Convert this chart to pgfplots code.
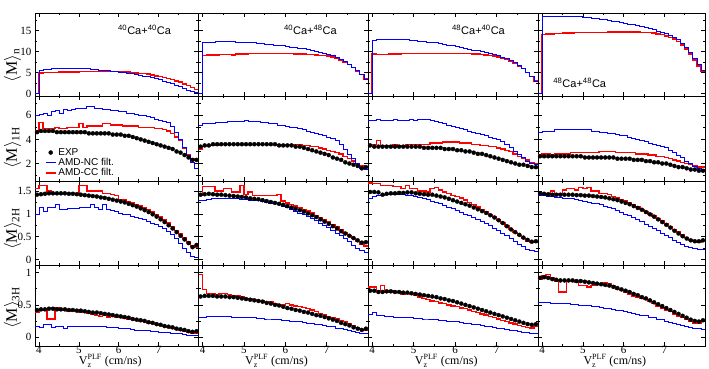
\documentclass[border=0pt]{standalone}
\usepackage{amsmath}
\usepackage{fontspec}
\setmainfont{Liberation Serif}
\newfontfamily\hv{Liberation Sans}
\usepackage{pgfplots}
\usepackage{pgfplotstable}
\pgfplotsset{compat=1.18}

% ---------- row 1: <M>_n (no EXP) ----------
\pgfplotstableread{
x nc cc
3.9 0 0
4.0 5.6 4.9
4.1 5.7 5.0
4.2 5.8 5.0
4.3 5.9 5.0
4.4 5.9 5.0
4.5 6.0 5.1
4.6 6.0 5.1
4.7 6.0 5.1
4.8 6.1 5.1
4.9 6.1 5.1
5.0 6.0 5.2
5.1 6.0 5.2
5.2 5.9 5.2
5.3 5.8 5.2
5.4 5.7 5.2
5.5 5.6 5.2
5.6 5.5 5.2
5.7 5.4 5.2
5.8 5.3 5.2
5.9 5.2 5.2
6.0 5.1 5.2
6.1 5.0 5.1
6.2 4.8 5.1
6.3 4.7 5.0
6.4 4.5 4.9
6.5 4.4 4.8
6.6 4.2 4.7
6.7 4.0 4.6
6.8 3.8 4.4
6.9 3.5 4.2
7.0 3.3 4.0
7.1 3.0 3.8
7.2 2.7 3.6
7.3 2.4 3.3
7.4 2.0 3.0
7.5 1.6 2.7
7.6 1.2 2.3
7.7 0.8 1.9
7.8 0.4 1.4
7.9 0.2 0.9
8.0 0.2 0.9
}\nA
\pgfplotstableread{
x nc cc
3.9 0 0
4.0 12.2 9.1
4.1 12.3 9.2
4.2 12.3 9.2
4.3 12.4 9.2
4.4 12.4 9.3
4.5 12.4 9.3
4.6 12.4 9.3
4.7 12.4 9.2
4.8 12.3 9.4
4.9 12.3 9.4
5.0 12.2 9.4
5.1 12.2 9.5
5.2 12.1 9.5
5.3 12.0 9.5
5.4 11.9 9.5
5.5 11.8 9.5
5.6 11.7 9.5
5.7 11.6 9.5
5.8 11.5 9.5
5.9 11.4 9.5
6.0 11.2 9.5
6.1 11.1 9.5
6.2 11.0 9.4
6.3 10.8 9.4
6.4 10.7 9.4
6.5 10.5 9.3
6.6 10.3 9.3
6.7 10.1 9.2
6.8 9.9 9.1
6.9 9.6 9.0
7.0 9.3 8.9
7.1 9.0 8.7
7.2 8.6 8.4
7.3 8.2 8.0
7.4 7.7 7.5
7.5 7.0 6.9
7.6 6.3 6.2
7.7 5.5 5.4
7.8 4.5 4.5
7.9 3.4 3.5
8.0 3.4 3.5
}\nB
\pgfplotstableread{
x nc cc
3.9 0 0
4.0 12.7 9.4
4.1 12.8 9.3
4.2 12.8 9.3
4.3 12.9 9.3
4.4 12.9 9.4
4.5 12.9 9.4
4.6 12.9 9.4
4.7 12.8 9.5
4.8 12.8 9.5
4.9 12.7 9.5
5.0 12.6 9.6
5.1 12.5 9.6
5.2 12.4 9.6
5.3 12.3 9.6
5.4 12.2 9.6
5.5 12.1 9.6
5.6 11.9 9.6
5.7 11.8 9.6
5.8 11.6 9.6
5.9 11.4 9.6
6.0 11.2 9.6
6.1 11.0 9.6
6.2 10.8 9.5
6.3 10.6 9.5
6.4 10.4 9.4
6.5 10.2 9.4
6.6 10.0 9.3
6.7 9.8 9.2
6.8 9.6 9.1
6.9 9.3 8.9
7.0 9.0 8.7
7.1 8.7 8.4
7.2 8.3 8.1
7.3 7.9 7.7
7.4 7.4 7.2
7.5 6.8 6.6
7.6 6.0 5.9
7.7 5.0 5.0
7.8 4.0 4.0
7.9 3.0 3.0
8.0 3.0 3.0
}\nC
\pgfplotstableread{
x nc cc
3.9 0 0
4.0 18.4 14.1
4.1 18.5 14.2
4.2 18.5 14.2
4.3 18.5 14.3
4.4 18.5 14.3
4.5 18.5 14.4
4.6 18.5 14.4
4.7 18.4 14.4
4.8 18.4 14.5
4.9 18.3 14.5
5.0 18.2 14.5
5.1 18.1 14.6
5.2 18.0 14.6
5.3 17.9 14.6
5.4 17.8 14.6
5.5 17.6 14.6
5.6 17.5 14.7
5.7 17.3 14.7
5.8 17.2 14.7
5.9 17.0 14.7
6.0 16.8 14.7
6.1 16.6 14.7
6.2 16.4 14.7
6.3 16.2 14.7
6.4 16.0 14.6
6.5 15.7 14.6
6.6 15.5 14.5
6.7 15.2 14.4
6.8 14.9 14.2
6.9 14.6 14.0
7.0 14.3 13.7
7.1 13.9 13.4
7.2 13.4 13.0
7.3 12.8 12.4
7.4 12.0 11.6
7.5 11.0 10.6
7.6 9.8 9.4
7.7 8.4 8.0
7.8 6.9 6.6
7.9 5.5 5.4
8.0 5.5 5.4
}\nD

% ---------- row 2: <M>_1H ----------
\pgfplotstableread{
x e nc cc
3.9 4.6 6.0 4.7
4.0 4.7 6.1 5.4
4.1 4.7 6.2 4.9
4.2 4.7 6.0 4.9
4.3 4.7 6.3 4.9
4.4 4.6 6.4 5.0
4.5 4.6 6.2 4.9
4.6 4.6 6.5 4.9
4.7 4.6 6.4 5.0
4.8 4.6 6.5 5.0
4.9 4.6 6.6 5.0
5.0 4.6 6.6 5.3
5.1 4.6 6.6 5.0
5.2 4.5 6.7 5.1
5.3 4.5 6.7 5.1
5.4 4.5 6.6 5.1
5.5 4.5 6.6 5.1
5.6 4.5 6.5 5.3
5.7 4.5 6.5 5.3
5.8 4.4 6.4 5.2
5.9 4.4 6.4 5.2
6.0 4.4 6.3 5.2
6.1 4.3 6.3 5.1
6.2 4.3 6.2 5.1
6.3 4.2 6.2 5.1
6.4 4.1 6.1 5.1
6.5 4.0 6.0 5.0
6.6 3.9 6.0 5.0
6.7 3.8 5.9 5.0
6.8 3.7 5.8 5.0
6.9 3.6 5.7 4.9
7.0 3.5 5.6 4.9
7.1 3.4 5.5 4.8
7.2 3.3 5.4 4.7
7.3 3.2 5.1 4.5
7.4 3.0 4.6 4.2
7.5 2.9 4.0 3.9
7.6 2.7 3.3 3.3
7.7 2.5 2.7 2.7
7.8 2.3 2.1 2.4
7.9 2.3 1.6 2.3
8.0 nan 1.6 2.3
}\pA
\pgfplotstableread{
x e nc cc
3.9 3.4 5.2 3.2
4.0 3.5 5.3 3.4
4.1 3.5 5.3 3.5
4.2 3.6 5.3 3.5
4.3 3.6 5.4 3.5
4.4 3.6 5.4 3.6
4.5 3.6 5.4 3.6
4.6 3.6 5.5 3.6
4.7 3.6 5.5 3.6
4.8 3.6 5.5 3.6
4.9 3.6 5.5 3.6
5.0 3.6 5.6 3.6
5.1 3.6 5.5 3.6
5.2 3.6 5.5 3.6
5.3 3.6 5.5 3.6
5.4 3.6 5.4 3.6
5.5 3.6 5.4 3.6
5.6 3.6 5.3 3.6
5.7 3.6 5.3 3.6
5.8 3.5 5.2 3.6
5.9 3.5 5.2 3.6
6.0 3.5 5.1 3.6
6.1 3.5 5.0 3.6
6.2 3.4 5.0 3.6
6.3 3.4 4.9 3.6
6.4 3.3 4.8 3.5
6.5 3.2 4.7 3.5
6.6 3.1 4.6 3.4
6.7 3.0 4.5 3.4
6.8 2.9 4.4 3.3
6.9 2.8 4.3 3.2
7.0 2.7 4.2 3.1
7.1 2.5 4.1 3.0
7.2 2.4 3.9 2.9
7.3 2.3 3.6 2.8
7.4 2.1 3.2 2.6
7.5 2.0 2.8 2.4
7.6 1.9 2.4 2.2
7.7 1.8 2.0 2.0
7.8 1.6 1.6 1.8
7.9 1.7 1.5 1.7
8.0 nan 1.5 1.7
}\pB
\pgfplotstableread{
x e nc cc
3.9 3.5 5.6 3.6
4.0 3.4 5.6 3.6
4.1 3.4 5.7 3.9
4.2 3.4 5.6 3.5
4.3 3.4 5.6 3.5
4.4 3.4 5.6 3.5
4.5 3.4 5.7 3.6
4.6 3.4 5.6 3.5
4.7 3.4 5.6 3.5
4.8 3.4 5.6 3.6
4.9 3.4 5.7 3.6
5.0 3.4 5.6 3.6
5.1 3.4 5.7 3.6
5.2 3.3 5.7 3.6
5.3 3.3 5.7 3.6
5.4 3.3 5.6 3.7
5.5 3.3 5.5 3.7
5.6 3.3 5.4 3.7
5.7 3.2 5.3 3.8
5.8 3.2 5.2 3.8
5.9 3.2 5.1 3.8
6.0 3.1 5.0 3.8
6.1 3.1 4.9 3.7
6.2 3.0 4.8 3.7
6.3 3.0 4.7 3.7
6.4 2.9 4.6 3.6
6.5 2.8 4.5 3.6
6.6 2.8 4.4 3.5
6.7 2.7 4.3 3.5
6.8 2.6 4.2 3.4
6.9 2.5 4.1 3.4
7.0 2.4 4.0 3.3
7.1 2.3 3.8 3.2
7.2 2.2 3.6 3.1
7.3 2.1 3.3 3.0
7.4 2.0 3.0 2.8
7.5 1.9 2.8 2.6
7.6 1.9 2.5 2.4
7.7 1.8 2.2 2.3
7.8 1.7 2.0 2.1
7.9 1.7 1.9 2.0
8.0 nan 1.9 2.0
}\pC
\pgfplotstableread{
x e nc cc
3.9 2.6 4.6 2.7
4.0 2.6 4.7 2.8
4.1 2.6 4.7 2.8
4.2 2.6 4.7 2.7
4.3 2.6 4.8 2.8
4.4 2.6 4.8 2.8
4.5 2.6 4.8 2.8
4.6 2.6 4.8 2.8
4.7 2.6 4.8 2.9
4.8 2.6 4.8 2.9
4.9 2.6 4.8 2.9
5.0 2.5 4.8 2.9
5.1 2.5 4.8 2.9
5.2 2.5 4.7 2.9
5.3 2.5 4.7 2.9
5.4 2.5 4.6 3.0
5.5 2.5 4.6 3.0
5.6 2.5 4.5 3.0
5.7 2.5 4.5 3.0
5.8 2.4 4.4 2.9
5.9 2.4 4.3 2.9
6.0 2.4 4.3 2.9
6.1 2.4 4.2 2.9
6.2 2.3 4.1 2.9
6.3 2.3 4.0 2.8
6.4 2.3 3.9 2.8
6.5 2.2 3.8 2.8
6.6 2.2 3.7 2.7
6.7 2.1 3.6 2.7
6.8 2.1 3.5 2.6
6.9 2.0 3.4 2.6
7.0 2.0 3.3 2.5
7.1 1.9 3.1 2.4
7.2 1.8 2.9 2.3
7.3 1.7 2.7 2.2
7.4 1.7 2.5 2.1
7.5 1.6 2.2 2.0
7.6 1.5 2.0 1.9
7.7 1.5 1.8 1.8
7.8 1.4 1.6 1.7
7.9 1.4 1.5 1.7
8.0 nan 1.5 1.7
}\pD

% ---------- row 3: <M>_2H ----------
\pgfplotstableread{
x e nc cc
3.9 1.42 1.0 1.55
4.0 1.43 1.15 1.62
4.1 1.44 1.05 1.62
4.2 1.45 1.15 1.5
4.3 1.45 1.15 1.45
4.4 1.45 1.2 1.45
4.5 1.45 1.1 1.45
4.6 1.45 1.1 1.45
4.7 1.44 1.12 1.45
4.8 1.44 1.12 1.45
4.9 1.43 1.13 1.45
5.0 1.42 1.14 1.62
5.1 1.41 1.15 1.62
5.2 1.40 1.15 1.5
5.3 1.39 1.2 1.5
5.4 1.38 1.15 1.5
5.5 1.36 1.1 1.5
5.6 1.35 1.2 1.45
5.7 1.33 1.1 1.45
5.8 1.31 1.08 1.42
5.9 1.29 1.05 1.4
6.0 1.27 1.02 1.32
6.1 1.25 1.0 1.3
6.2 1.22 0.98 1.27
6.3 1.19 0.95 1.24
6.4 1.16 0.92 1.21
6.5 1.12 0.9 1.17
6.6 1.08 0.87 1.13
6.7 1.04 0.84 1.09
6.8 0.99 0.8 1.04
6.9 0.94 0.77 0.99
7.0 0.88 0.73 0.93
7.1 0.82 0.68 0.87
7.2 0.75 0.62 0.8
7.3 0.68 0.55 0.72
7.4 0.60 0.46 0.64
7.5 0.52 0.36 0.56
7.6 0.44 0.25 0.47
7.7 0.36 0.15 0.38
7.8 0.27 0.08 0.3
7.9 0.32 0.05 0.27
8.0 nan 0.05 0.27
}\dA
\pgfplotstableread{
x e nc cc
3.9 1.42 1.3 1.4
4.0 1.43 1.3 1.6
4.1 1.44 1.32 1.6
4.2 1.43 1.33 1.6
4.3 1.42 1.33 1.5
4.4 1.42 1.35 1.5
4.5 1.41 1.35 1.55
4.6 1.40 1.33 1.55
4.7 1.39 1.35 1.48
4.8 1.38 1.33 1.48
4.9 1.37 1.32 1.62
5.0 1.36 1.32 1.42
5.1 1.34 1.3 1.48
5.2 1.33 1.3 1.4
5.3 1.32 1.3 1.4
5.4 1.30 1.28 1.4
5.5 1.28 1.25 1.4
5.6 1.26 1.24 1.4
5.7 1.24 1.22 1.4
5.8 1.22 1.2 1.42
5.9 1.20 1.17 1.28
6.0 1.17 1.14 1.24
6.1 1.14 1.1 1.2
6.2 1.11 1.06 1.17
6.3 1.08 1.02 1.14
6.4 1.05 0.98 1.1
6.5 1.01 0.94 1.06
6.6 0.97 0.9 1.02
6.7 0.93 0.85 0.97
6.8 0.88 0.8 0.92
6.9 0.83 0.75 0.87
7.0 0.78 0.7 0.82
7.1 0.73 0.64 0.77
7.2 0.68 0.58 0.71
7.3 0.62 0.52 0.65
7.4 0.57 0.46 0.58
7.5 0.52 0.39 0.52
7.6 0.47 0.32 0.46
7.7 0.42 0.25 0.39
7.8 0.37 0.19 0.33
7.9 0.38 0.15 0.3
8.0 nan 0.15 0.3
}\dB
\pgfplotstableread{
x e nc cc
3.9 1.48 1.35 1.68
4.0 1.48 1.38 1.66
4.1 1.47 1.4 1.66
4.2 1.42 1.4 1.62
4.3 1.44 1.42 1.62
4.4 1.45 1.42 1.62
4.5 1.45 1.42 1.6
4.6 1.46 1.42 1.6
4.7 1.46 1.42 1.55
4.8 1.47 1.4 1.62
4.9 1.47 1.4 1.55
5.0 1.45 1.38 1.55
5.1 1.44 1.36 1.5
5.2 1.43 1.34 1.5
5.3 1.42 1.31 1.48
5.4 1.42 1.28 1.55
5.5 1.40 1.25 1.58
5.6 1.38 1.22 1.52
5.7 1.36 1.18 1.48
5.8 1.33 1.15 1.45
5.9 1.30 1.11 1.4
6.0 1.27 1.08 1.38
6.1 1.24 1.04 1.35
6.2 1.21 1.0 1.3
6.3 1.18 0.96 1.25
6.4 1.14 0.92 1.2
6.5 1.10 0.88 1.15
6.6 1.06 0.84 1.1
6.7 1.02 0.79 1.05
6.8 0.97 0.74 0.99
6.9 0.92 0.69 0.93
7.0 0.86 0.64 0.87
7.1 0.80 0.58 0.8
7.2 0.73 0.52 0.73
7.3 0.66 0.46 0.66
7.4 0.60 0.4 0.59
7.5 0.54 0.34 0.52
7.6 0.48 0.28 0.46
7.7 0.43 0.23 0.41
7.8 0.39 0.19 0.37
7.9 0.40 0.17 0.38
8.0 nan 0.17 0.38
}\dC
\pgfplotstableread{
x e nc cc
3.9 1.45 1.4 1.45
4.0 1.44 1.4 1.42
4.1 1.43 1.38 1.45
4.2 1.42 1.38 1.5
4.3 1.42 1.37 1.45
4.4 1.42 1.36 1.45
4.5 1.42 1.35 1.52
4.6 1.42 1.34 1.55
4.7 1.42 1.33 1.55
4.8 1.41 1.32 1.52
4.9 1.41 1.3 1.58
5.0 1.40 1.28 1.55
5.1 1.40 1.26 1.58
5.2 1.39 1.24 1.5
5.3 1.38 1.22 1.5
5.4 1.37 1.2 1.45
5.5 1.36 1.17 1.45
5.6 1.34 1.14 1.42
5.7 1.32 1.11 1.38
5.8 1.30 1.08 1.35
5.9 1.27 1.04 1.32
6.0 1.24 1.0 1.28
6.1 1.21 0.96 1.25
6.2 1.17 0.92 1.2
6.3 1.13 0.88 1.15
6.4 1.09 0.83 1.1
6.5 1.04 0.78 1.05
6.6 0.99 0.73 1.0
6.7 0.94 0.68 0.95
6.8 0.88 0.63 0.9
6.9 0.82 0.58 0.84
7.0 0.76 0.53 0.78
7.1 0.70 0.48 0.72
7.2 0.63 0.43 0.66
7.3 0.57 0.38 0.6
7.4 0.51 0.33 0.54
7.5 0.46 0.29 0.48
7.6 0.42 0.26 0.43
7.7 0.40 0.24 0.39
7.8 0.40 0.23 0.37
7.9 0.42 0.23 0.42
8.0 nan 0.23 0.42
}\dD

% ---------- row 4: <M>_3H ----------
\pgfplotstableread{
x e nc cc
3.9 0.42 0.17 0.38
4.0 0.43 0.15 0.42
4.1 0.43 0.2 0.42
4.2 0.44 0.2 0.28
4.3 0.44 0.15 0.28
4.4 0.43 0.17 0.45
4.5 0.43 0.17 0.42
4.6 0.43 0.14 0.42
4.7 0.42 0.17 0.40
4.8 0.42 0.17 0.41
4.9 0.41 0.16 0.40
5.0 0.41 0.17 0.39
5.1 0.40 0.17 0.38
5.2 0.39 0.16 0.37
5.3 0.38 0.16 0.35
5.4 0.38 0.16 0.33
5.5 0.37 0.16 0.32
5.6 0.36 0.16 0.34
5.7 0.35 0.15 0.31
5.8 0.34 0.15 0.32
5.9 0.33 0.15 0.30
6.0 0.32 0.14 0.31
6.1 0.31 0.13 0.29
6.2 0.30 0.13 0.28
6.3 0.28 0.12 0.27
6.4 0.27 0.11 0.26
6.5 0.26 0.11 0.25
6.6 0.25 0.10 0.24
6.7 0.23 0.10 0.22
6.8 0.22 0.09 0.21
6.9 0.20 0.09 0.19
7.0 0.19 0.08 0.18
7.1 0.17 0.08 0.16
7.2 0.16 0.07 0.15
7.3 0.15 0.06 0.13
7.4 0.13 0.05 0.12
7.5 0.12 0.05 0.11
7.6 0.11 0.04 0.09
7.7 0.09 0.03 0.08
7.8 0.08 0.03 0.06
7.9 0.09 0.02 0.06
8.0 nan 0.02 0.06
}\tA
\pgfplotstableread{
x e nc cc
3.9 0.63 0.3 0.97
4.0 0.64 0.31 0.74
4.1 0.64 0.32 0.68
4.2 0.64 0.32 0.68
4.3 0.63 0.32 0.66
4.4 0.63 0.32 0.68
4.5 0.63 0.32 0.68
4.6 0.62 0.32 0.66
4.7 0.62 0.31 0.64
4.8 0.61 0.31 0.64
4.9 0.60 0.31 0.62
5.0 0.59 0.3 0.6
5.1 0.58 0.3 0.6
5.2 0.57 0.3 0.58
5.3 0.56 0.29 0.57
5.4 0.55 0.29 0.56
5.5 0.53 0.28 0.54
5.6 0.52 0.28 0.55
5.7 0.50 0.27 0.52
5.8 0.49 0.27 0.5
5.9 0.47 0.26 0.5
6.0 0.45 0.26 0.52
6.1 0.44 0.25 0.5
6.2 0.42 0.24 0.48
6.3 0.41 0.24 0.47
6.4 0.39 0.23 0.46
6.5 0.38 0.22 0.44
6.6 0.36 0.21 0.42
6.7 0.34 0.2 0.4
6.8 0.33 0.19 0.37
6.9 0.31 0.18 0.35
7.0 0.29 0.17 0.32
7.1 0.27 0.16 0.3
7.2 0.25 0.14 0.28
7.3 0.22 0.13 0.26
7.4 0.20 0.12 0.24
7.5 0.18 0.1 0.21
7.6 0.15 0.09 0.18
7.7 0.13 0.07 0.15
7.8 0.11 0.06 0.12
7.9 0.13 0.05 0.1
8.0 nan 0.05 0.1
}\tB
\pgfplotstableread{
x e nc cc
3.9 0.72 0.36 0.78
4.0 0.72 0.38 0.78
4.1 0.70 0.34 0.72
4.2 0.70 0.33 0.8
4.3 0.71 0.32 0.7
4.4 0.71 0.32 0.72
4.5 0.70 0.31 0.7
4.6 0.70 0.31 0.7
4.7 0.69 0.3 0.66
4.8 0.69 0.3 0.68
4.9 0.68 0.3 0.66
5.0 0.67 0.29 0.65
5.1 0.66 0.29 0.62
5.2 0.65 0.28 0.6
5.3 0.64 0.28 0.58
5.4 0.63 0.27 0.56
5.5 0.62 0.27 0.55
5.6 0.60 0.26 0.53
5.7 0.59 0.26 0.52
5.8 0.57 0.25 0.5
5.9 0.56 0.24 0.48
6.0 0.54 0.24 0.47
6.1 0.52 0.23 0.45
6.2 0.50 0.22 0.44
6.3 0.48 0.21 0.42
6.4 0.46 0.2 0.4
6.5 0.44 0.19 0.38
6.6 0.42 0.18 0.36
6.7 0.40 0.17 0.34
6.8 0.38 0.16 0.32
6.9 0.36 0.15 0.3
7.0 0.34 0.14 0.28
7.1 0.32 0.13 0.26
7.2 0.30 0.12 0.24
7.3 0.28 0.11 0.22
7.4 0.26 0.1 0.2
7.5 0.24 0.09 0.18
7.6 0.22 0.08 0.16
7.7 0.20 0.07 0.15
7.8 0.19 0.06 0.14
7.9 0.20 0.06 0.16
8.0 nan 0.06 0.16
}\tC
\pgfplotstableread{
x e nc cc
3.9 0.92 0.54 0.9
4.0 0.93 0.54 0.95
4.1 0.92 0.54 0.97
4.2 0.90 0.53 0.92
4.3 0.89 0.53 0.87
4.4 0.88 0.53 0.7
4.5 0.88 0.52 0.7
4.6 0.88 0.52 0.87
4.7 0.88 0.51 0.88
4.8 0.87 0.51 0.85
4.9 0.87 0.5 0.8
5.0 0.86 0.49 0.8
5.1 0.85 0.49 0.78
5.2 0.84 0.48 0.8
5.3 0.83 0.47 0.82
5.4 0.82 0.46 0.82
5.5 0.81 0.45 0.84
5.6 0.80 0.44 0.83
5.7 0.78 0.43 0.8
5.8 0.76 0.42 0.74
5.9 0.74 0.41 0.72
6.0 0.72 0.4 0.7
6.1 0.70 0.38 0.67
6.2 0.67 0.37 0.64
6.3 0.65 0.36 0.62
6.4 0.62 0.34 0.6
6.5 0.60 0.33 0.58
6.6 0.57 0.31 0.55
6.7 0.54 0.3 0.52
6.8 0.51 0.28 0.48
6.9 0.48 0.27 0.45
7.0 0.45 0.25 0.42
7.1 0.42 0.23 0.4
7.2 0.39 0.21 0.36
7.3 0.36 0.2 0.32
7.4 0.33 0.18 0.3
7.5 0.30 0.17 0.27
7.6 0.27 0.15 0.24
7.7 0.25 0.14 0.22
7.8 0.24 0.13 0.22
7.9 0.26 0.12 0.26
8.0 nan 0.12 0.26
}\tD

\pgfplotsset{
  panel/.style={scale only axis, xmin=3.9, xmax=8, clip mode=individual,
    axis line style={line width=0.7pt},
    tick align=inside, tick pos=both,
    major tick length=4pt, minor tick length=2pt,
    every tick/.style={black, line width=0.6pt},
    xtick={4,5,6,7}, minor xtick={4.5,5.5,6.5,7.5},
    ticklabel style={font=\fontsize{11}{12}\selectfont},
    xticklabel style={yshift=3.5pt},
    /pgf/number format/assume math mode=true,
    legend image code/.code={\draw[mark repeat=2,mark phase=2,##1]
      plot coordinates {(0pt,0pt) (5pt,0pt) (10pt,0pt)};}},
  rA/.style={height=83pt, ymin=-0.6, ymax=19.2, ytick={0,5,10,15},
    minor ytick={2.5,7.5,12.5,17.5}},
  rB/.style={height=85pt, ymin=0.55, ymax=7.6, ytick={2,4,6},
    minor ytick={1,3,5,7}},
  rC/.style={height=84pt, ymin=-0.12, ymax=1.72, ytick={0,0.5,1,1.5},
    minor ytick={0.25,0.75,1.25}},
  rD/.style={height=81pt, ymin=-0.14, ymax=1.12, ytick={0,0.5,1},
    minor ytick={0.25,0.75}},
  nox/.style={xticklabels={}},
  noy/.style={yticklabels={}},
  nc/.style={blue, line width=0.7pt, const plot mark left, no markers, forget plot},
  cc/.style={red, line width=1.4pt, const plot mark left, no markers, forget plot},
  ex/.style={only marks, mark=*, mark size=2pt, black, forget plot},
}

\newcommand\hists[1]{%
  \addplot[cc] table[y=cc]{#1};
  \addplot[nc] table[y=nc]{#1};}
\newcommand\expd[1]{\addplot[ex] table[x expr=\thisrow{x}+0.05, y=e]{#1};}
\newcommand\ylab[2]{\node[rotate=90, font=\fontsize{16}{16}\selectfont]
  at ([xshift=-22.5pt]rel axis cs:0,#1) {$\langle\textrm{M}\rangle_{\textrm{#2}}$};}
\newcommand\xlab{\node[font=\fontsize{12}{12}\selectfont, inner sep=1pt]
  at ([yshift=-15pt]rel axis cs:0.46,0) {$\textrm{V}_{\textrm{z}}^{\textrm{PLF}}$ (cm/ns)};}
\newcommand\ttl[4]{\node[font=\hv\fontsize{11}{12}\selectfont]
  at (rel axis cs:#1,#2) {\textsuperscript{#3}Ca+\textsuperscript{#4}Ca};}

\begin{document}
\begin{tikzpicture}
\useasboundingbox (0,0) rectangle (709pt,369pt);

% ===== row 1 =====
\begin{axis}[panel,rA,nox,width=163.5pt,at={(35pt,356pt)},anchor=north west]
\hists{\nA}
\ylab{0.37}{n}
\ttl{0.67}{0.8}{40}{40}
\end{axis}
\begin{axis}[panel,rA,nox,noy,width=169.5pt,at={(198.5pt,356pt)},anchor=north west]
\hists{\nB}
\ttl{0.66}{0.8}{40}{48}
\end{axis}
\begin{axis}[panel,rA,nox,noy,width=170pt,at={(368pt,356pt)},anchor=north west]
\hists{\nC}
\ttl{0.65}{0.8}{48}{40}
\end{axis}
\begin{axis}[panel,rA,nox,noy,width=167pt,at={(538pt,356pt)},anchor=north west]
\hists{\nD}
\ttl{0.25}{0.16}{48}{48}
\end{axis}

% ===== row 2 =====
\begin{axis}[panel,rB,nox,width=163.5pt,at={(35pt,273pt)},anchor=north west,
  legend style={at={(rel axis cs:0.06,0.41)}, anchor=north west, draw=none,
    fill=none, font=\hv\fontsize{10}{11}\selectfont, row sep=-2.5pt,
    cells={anchor=west}, inner sep=0pt}]
\hists{\pA}
\expd{\pA}
\addlegendimage{only marks, mark=*, mark size=2pt, black}
\addlegendentry{EXP}
\addlegendimage{blue, line width=0.7pt}
\addlegendentry{AMD-NC filt.}
\addlegendimage{red, line width=1.4pt}
\addlegendentry{AMD-CC filt.}
\ylab{0.39}{1H}
\end{axis}
\begin{axis}[panel,rB,nox,noy,width=169.5pt,at={(198.5pt,273pt)},anchor=north west]
\hists{\pB}
\expd{\pB}
\end{axis}
\begin{axis}[panel,rB,nox,noy,width=170pt,at={(368pt,273pt)},anchor=north west]
\hists{\pC}
\expd{\pC}
\end{axis}
\begin{axis}[panel,rB,nox,noy,width=167pt,at={(538pt,273pt)},anchor=north west]
\hists{\pD}
\expd{\pD}
\end{axis}

% ===== row 3 =====
\begin{axis}[panel,rC,nox,width=163.5pt,at={(35pt,188pt)},anchor=north west]
\hists{\dA}
\expd{\dA}
\ylab{0.43}{2H}
\end{axis}
\begin{axis}[panel,rC,nox,noy,width=169.5pt,at={(198.5pt,188pt)},anchor=north west]
\hists{\dB}
\expd{\dB}
\end{axis}
\begin{axis}[panel,rC,nox,noy,width=170pt,at={(368pt,188pt)},anchor=north west]
\hists{\dC}
\expd{\dC}
\end{axis}
\begin{axis}[panel,rC,nox,noy,width=167pt,at={(538pt,188pt)},anchor=north west]
\hists{\dD}
\expd{\dD}
\end{axis}

% ===== row 4 =====
\begin{axis}[panel,rD,width=163.5pt,at={(35pt,104pt)},anchor=north west]
\hists{\tA}
\expd{\tA}
\ylab{0.47}{3H}
\xlab
\end{axis}
\begin{axis}[panel,rD,noy,width=169.5pt,at={(198.5pt,104pt)},anchor=north west]
\hists{\tB}
\expd{\tB}
\xlab
\end{axis}
\begin{axis}[panel,rD,noy,width=170pt,at={(368pt,104pt)},anchor=north west]
\hists{\tC}
\expd{\tC}
\xlab
\end{axis}
\begin{axis}[panel,rD,noy,width=167pt,at={(538pt,104pt)},anchor=north west]
\hists{\tD}
\expd{\tD}
\xlab
\end{axis}
\end{tikzpicture}
\end{document}
